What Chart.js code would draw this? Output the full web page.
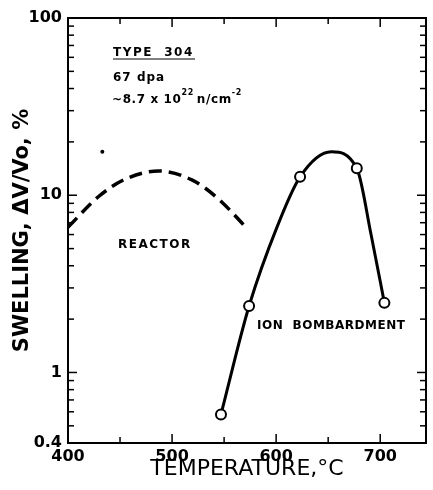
<!DOCTYPE html>
<html><head><meta charset="utf-8">
<script src="https://cdn.jsdelivr.net/npm/chart.js@4/dist/chart.umd.min.js"></script>
<style>html,body{margin:0;padding:0;background:#fff}#wrap{width:433px;height:490px;position:relative}</style>
</head><body><div id="wrap"><canvas id="c" width="433" height="490"></canvas></div>
<script>
// Ion bombardment measured points
const ionTemps = [547, 574, 623, 677.5, 704];
const ionSwelling = [0.58, 2.37, 12.7, 14.2, 2.47];
// Ion bombardment fitted curve
const ionCurveTemps = [547, 574, 601, 623, 653, 677.5, 691.3, 704];
const ionCurveSwelling = [0.58, 2.37, 6.65, 12.7, 17.6, 14.2, 5.96, 2.47];
// Reactor dashed curve
const reactorTemps = [400, 430, 456, 487, 519, 544, 572];
const reactorSwelling = [6.6, 9.9, 12.4, 13.7, 12.2, 9.6, 6.5];
// Isolated dot
const dotTemps = [433];
const dotSwelling = [17.6];
// Axes
const xTicks = [400, 500, 600, 700];
const xMinorTicks = [450, 550, 650];
const yTicks = [0.4, 1, 10, 100];
const yTickLabels = ['0.4', '1', '10', '100'];
const xRange = [400, 744];
const yRange = [0.4, 100];

const toXY = (xs, ys) => xs.map((v, i) => ({x: v, y: ys[i]}));
const FONT = "'DejaVu Sans', sans-serif";

const framePlugin = {
  id: 'frame',
  beforeDatasetsDraw(chart) {
    const {ctx, chartArea: a, scales: {x, y}} = chart;
    ctx.save();
    ctx.strokeStyle = '#000';
    ctx.lineWidth = 2;
    ctx.strokeRect(a.left, a.top, a.right - a.left, a.bottom - a.top);
    ctx.lineWidth = 1.5;
    const seg = (x1, y1, x2, y2) => { ctx.beginPath(); ctx.moveTo(x1, y1); ctx.lineTo(x2, y2); ctx.stroke(); };
    xTicks.concat(xMinorTicks).forEach(v => {
      const px = x.getPixelForValue(v);
      const len = xTicks.includes(v) ? 9 : 6;
      seg(px, a.bottom, px, a.bottom - len);
      seg(px, a.top, px, a.top + len);
    });
    [0.1, 1, 10].forEach(d => {
      for (let m = 1; m <= 9; m++) {
        const v = m * d;
        if (v < y.min - 1e-9 || v > y.max + 1e-9) continue;
        const py = y.getPixelForValue(v);
        const len = m === 1 ? 9 : 6;
        seg(a.left, py, a.left + len, py);
        seg(a.right, py, a.right - len, py);
      }
    });
    ctx.restore();
  },
  afterDraw(chart) {
    const {ctx} = chart;
    ctx.save();
    ctx.fillStyle = '#000';
    ctx.textBaseline = 'alphabetic';
    ctx.font = 'bold 12px ' + FONT;
    ctx.letterSpacing = '1.5px';
    ctx.fillText('TYPE  304', 113, 56);
    ctx.lineWidth = 1; ctx.strokeStyle = '#000';
    ctx.beginPath(); ctx.moveTo(113, 59); ctx.lineTo(195, 59); ctx.stroke();
    ctx.letterSpacing = '1px';
    ctx.fillText('67 dpa', 113, 81);
    ctx.letterSpacing = '0.6px';
    let t = '~8.7 x 10';
    ctx.fillText(t, 112, 103);
    let w = ctx.measureText(t).width;
    ctx.font = 'bold 8px ' + FONT;
    ctx.fillText('22', 112 + w, 95);
    let w2 = ctx.measureText('22').width;
    ctx.font = 'bold 12px ' + FONT;
    ctx.fillText('n/cm', 112 + w + w2 + 3, 103);
    let w3 = ctx.measureText('n/cm').width;
    ctx.font = 'bold 8px ' + FONT;
    ctx.fillText('-2', 112 + w + w2 + w3 + 3, 95);
    ctx.font = 'bold 12px ' + FONT;
    ctx.letterSpacing = '1.5px';
    ctx.fillText('REACTOR', 118, 248);
    ctx.letterSpacing = '0.5px';
    ctx.fillText('ION  BOMBARDMENT', 257, 329);
    ctx.restore();
  }
};

new Chart(document.getElementById('c'), {
  type: 'scatter',
  data: {
    datasets: [
      {
        data: toXY(ionTemps, ionSwelling), showLine: false,
        pointRadius: 5, pointBackgroundColor: '#fff', pointBorderColor: '#000', pointBorderWidth: 2
      },
      {
        data: toXY(ionCurveTemps, ionCurveSwelling), showLine: true, borderColor: '#000', borderWidth: 3,
        pointRadius: 0, cubicInterpolationMode: 'monotone'
      },
      {
        data: toXY(reactorTemps, reactorSwelling), showLine: true, borderColor: '#000', borderWidth: 3.5,
        borderDash: [13, 7], pointRadius: 0, cubicInterpolationMode: 'monotone'
      },
      {
        data: toXY(dotTemps, dotSwelling), showLine: false, pointRadius: 2,
        pointBackgroundColor: '#000', pointBorderColor: '#000', pointBorderWidth: 0
      }
    ]
  },
  options: {
    responsive: false, animation: false, devicePixelRatio: 1,
    layout: {padding: {left: 0, right: 2, top: 18, bottom: 0}},
    plugins: {legend: {display: false}, tooltip: {enabled: false}},
    scales: {
      x: {
        type: 'linear', min: xRange[0], max: xRange[1],
        grid: {display: false, drawTicks: false}, border: {display: false},
        afterBuildTicks: s => { s.ticks = xTicks.map(v => ({value: v})); },
        afterFit: s => { s.height = 47; },
        ticks: {color: '#000', font: {family: FONT, weight: 'bold', size: 16}, padding: 4, maxRotation: 0,
          callback: v => String(v)},
        title: {display: true, text: 'TEMPERATURE,°C', color: '#000',
          font: {family: FONT, size: 22}, padding: {top: 0, bottom: 8}}
      },
      y: {
        type: 'logarithmic', min: yRange[0], max: yRange[1],
        grid: {display: false, drawTicks: false}, border: {display: false},
        afterBuildTicks: s => { s.ticks = yTicks.map(v => ({value: v})); },
        afterFit: s => { s.width = 68; },
        ticks: {color: '#000', font: {family: FONT, weight: 'bold', size: 16}, padding: 6,
          callback: (v) => { const i = yTicks.indexOf(v); return i >= 0 ? yTickLabels[i] : ''; }},
        title: {display: true, text: 'SWELLING, ΔV/Vo, %', color: '#000',
          font: {family: FONT, weight: 'bold', size: 21}, padding: {top: 10, bottom: 0}}
      }
    }
  },
  plugins: [framePlugin]
});
</script></body></html>
